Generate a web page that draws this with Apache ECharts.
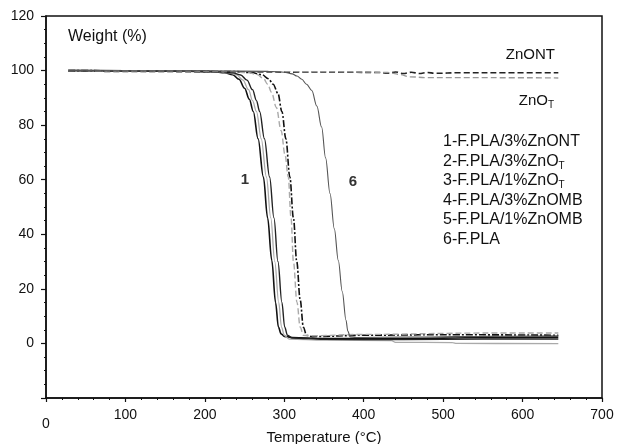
<!DOCTYPE html>
<html>
<head>
<meta charset="utf-8">
<script src="https://cdn.jsdelivr.net/npm/echarts@6/dist/echarts.min.js"></script>
<style>
html,body{margin:0;padding:0;background:#fff;}
#chart{width:618px;height:444px;}
</style>
</head>
<body>
<div id="chart"></div>
<script>
// ---- data (Temperature °C, Weight %) ----
const xTicks = [0, 100, 200, 300, 400, 500, 600, 700];
const yTicks = [-20, 0, 20, 40, 60, 80, 100, 120];

const curveZnONT = [[28,99.8],[100,99.7],[200,99.6],[260,99.5],[320,99.4],[380,99.4],[420,99.3],[430,99.0],[440,99.5],[450,98.9],[460,99.4],[470,98.9],[480,99.3],[490,99.0],[520,99.2],[580,99.2],[645,99.2]];
const curveZnOT = [[28,99.8],[100,99.7],[200,99.6],[300,99.6],[400,99.5],[430,99.3],[445,98.6],[458,97.7],[480,97.4],[560,97.4],[645,97.3]];
const curve1 = [[28,100],[150,99.9],[210,99.6],[225,99.2],[235,98.5],[243,96.8],[250,93.5],[256,89.5],[261,85],[267,75],[273.7,61],[279,46],[284.3,30.4],[289,15],[292.6,6],[296,3.5],[300,2.6],[310,2.2],[350,1.8],[450,1.7],[550,2.2],[645,2.3]];
const curve2 = [[28,100],[150,99.9],[215,99.6],[230,99.2],[240,98.4],[248,96.5],[255,93],[260,89],[265,85],[271,75],[277.5,61],[283,46],[288,30],[293,15],[296.5,6],[300,3],[306,1.6],[350,1.2],[435,1.0],[440,0.4],[512,0.3],[517,0],[645,-0.1]];
const curve3 = [[28,100],[150,99.9],[220,99.6],[235,99.2],[245,98.4],[253,96.5],[260,93],[265,89],[269,85],[275,75],[281.5,61],[287,46],[292,30],[297,15],[300.5,6],[304,3],[310,2],[350,1.5],[450,1.4],[550,1.6],[645,1.6]];
const curve4 = [[28,100],[150,99.9],[240,99.6],[260,99.2],[272,98.5],[280,97],[286,95],[292,91.6],[297,85],[302,75],[307,61],[311.5,46],[315.7,30],[320,16],[324,6],[328,3],[335,2.5],[400,3],[500,3.2],[645,3.0]];
const curve5 = [[28,100],[150,99.9],[235,99.6],[255,99.2],[266,98.5],[274,97],[279,95],[284,92],[290,86.5],[296,78],[301,69],[305,61],[308.5,46],[311.5,30],[316,15],[320,6],[324,3],[330,2.8],[400,3.3],[550,3.8],[645,3.8]];
const curve6 = [[28,100],[200,99.9],[280,99.7],[300,99.4],[310,98.8],[316,98],[322,96.8],[328,95],[334.6,92.7],[341,87],[347,79.3],[352,68],[357.6,54.9],[363,42],[368,30.4],[373,19],[377.7,8.5],[380,4.5],[383,2.4],[390,2.2],[450,2.3],[550,2.6],[645,2.8]];

const legendRows = ['1-F.PLA/3%ZnONT', '2-F.PLA/3%ZnO', '3-F.PLA/1%ZnO', '4-F.PLA/3%ZnOMB', '5-F.PLA/1%ZnOMB', '6-F.PLA'];
const legendSub = ['', 'T', 'T', '', '', ''];

const chart = echarts.init(document.getElementById('chart'), null, {renderer: 'canvas'});
const FONT = 'Liberation Sans, Arial, sans-serif';
const INK = '#111';

function line(name, data, color, width, type) {
  return {
    name, type: 'line', data, showSymbol: false, symbol: 'none',
    smooth: 0.35, smoothMonotone: 'x', animation: false,
    lineStyle: {color, width, type}
  };
}

const textEls = [
  {type: 'text', x: 68, y: 37, style: {text: 'Weight (%)', font: '16px ' + FONT, fill: INK, textVerticalAlign: 'middle'}},
  {type: 'text', x: 555, y: 55, style: {text: 'ZnONT', font: '15px ' + FONT, fill: INK, textAlign: 'right', textVerticalAlign: 'middle'}},
  {type: 'text', x: 554, y: 101, style: {text: '{a|ZnO}{s|T}', fill: INK, textAlign: 'right', textVerticalAlign: 'middle',
     rich: {a: {fontSize: 15, fontFamily: FONT, fill: INK}, s: {fontSize: 10, fontFamily: FONT, fill: INK, padding: [8, 0, 0, 0]}}}},
  {type: 'text', x: 245, y: 180, style: {text: '1', font: 'bold 15px ' + FONT, fill: '#333', textAlign: 'center', textVerticalAlign: 'middle'}},
  {type: 'text', x: 353, y: 182, style: {text: '6', font: 'bold 15px ' + FONT, fill: '#333', textAlign: 'center', textVerticalAlign: 'middle'}}
];
legendRows.forEach((t, i) => {
  const txt = legendSub[i] ? '{a|' + t + '}{s|' + legendSub[i] + '}' : '{a|' + t + '}';
  textEls.push({type: 'text', x: 443, y: 142 + i * 19.5, style: {text: txt, fill: INK, textVerticalAlign: 'middle',
    rich: {a: {fontSize: 16, fontFamily: FONT, fill: INK}, s: {fontSize: 10, fontFamily: FONT, fill: INK, padding: [9, 0, 0, 0]}}}});
});

chart.setOption({
  backgroundColor: '#fff',
  animation: false,
  grid: {left: 46, right: 16, top: 16, bottom: 46, containLabel: false, outerBoundsMode: 'none',
         show: true, borderColor: INK, borderWidth: 1.5, backgroundColor: 'transparent'},
  xAxis: {
    type: 'value', min: xTicks[0], max: xTicks[xTicks.length - 1], interval: 100,
    name: 'Temperature (°C)', nameLocation: 'middle', nameGap: 32, nameMoveOverlap: false,
    nameTextStyle: {fontSize: 15, fontFamily: FONT, color: INK},
    axisLine: {onZero: false, lineStyle: {color: INK, width: 1.5}},
    axisTick: {show: true, inside: false, length: 4, lineStyle: {color: INK, width: 1.2}},
    minorTick: {show: true, splitNumber: 5, length: 2, lineStyle: {color: INK, width: 1}},
    splitLine: {show: false},
    axisLabel: {margin: 10, fontSize: 14, fontFamily: FONT, color: INK,
      formatter: v => v === 0 ? '{z|0}' : String(v),
      rich: {z: {fontSize: 14, fontFamily: FONT, color: INK, padding: [9, 0, 0, 0]}}}
  },
  yAxis: {
    type: 'value', min: yTicks[0], max: yTicks[yTicks.length - 1], interval: 20,
    axisLine: {show: true, onZero: false, lineStyle: {color: INK, width: 1.5}},
    axisTick: {show: true, inside: false, length: 5, lineStyle: {color: INK, width: 1.2}},
    minorTick: {show: true, splitNumber: 4, length: 2, lineStyle: {color: INK, width: 1}},
    splitLine: {show: false},
    axisLabel: {margin: 12, fontSize: 14, fontFamily: FONT, color: INK,
      formatter: v => v === yTicks[0] ? '' : String(v)}
  },
  series: [
    line('ZnONT', curveZnONT, '#222', 1.6, [6, 3]),
    line('ZnOT', curveZnOT, '#999', 1.4, [6, 3]),
    line('1-F.PLA/3%ZnONT', curve1, '#111', 1.6, 'solid'),
    line('2-F.PLA/3%ZnOT', curve2, '#aaa', 1.3, 'solid'),
    line('3-F.PLA/1%ZnOT', curve3, '#222', 1.4, 'solid'),
    line('4-F.PLA/3%ZnOMB', curve4, '#111', 1.6, [7, 2, 2, 2]),
    line('5-F.PLA/1%ZnOMB', curve5, '#aaa', 1.4, [6, 3]),
    line('6-F.PLA', curve6, '#555', 1.1, 'solid')
  ],
  graphic: textEls
});
</script>
</body>
</html>
